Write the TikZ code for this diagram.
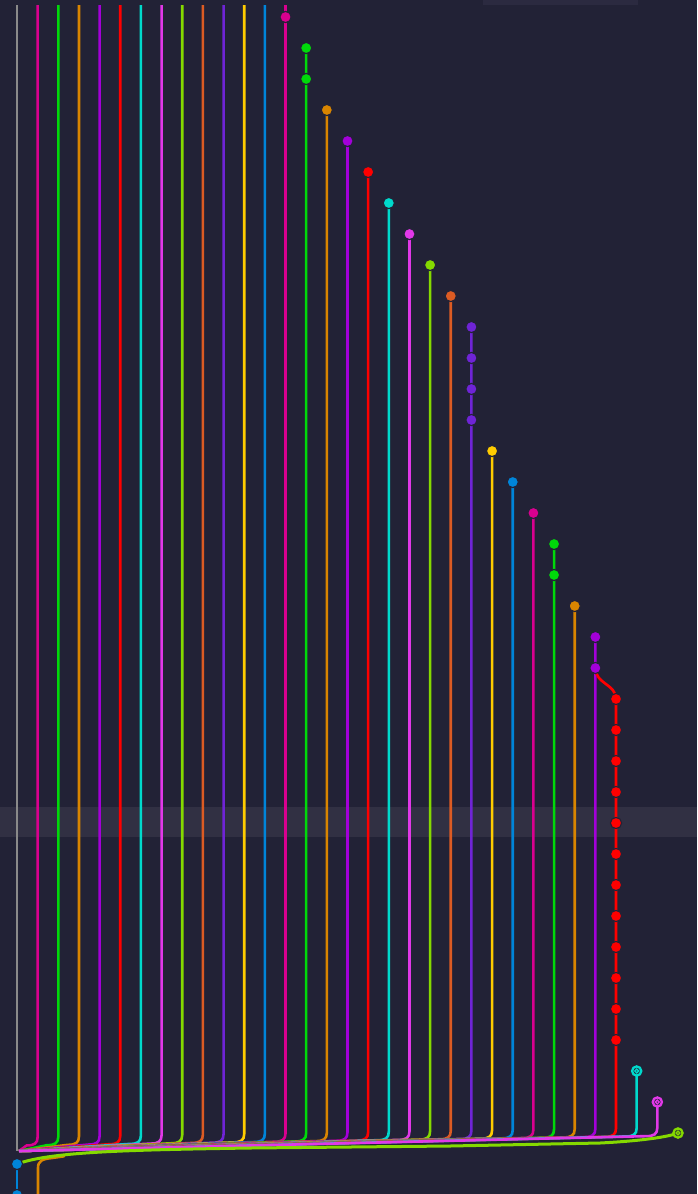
\documentclass[tikz,border=0pt]{standalone}
\usetikzlibrary{calc}
\definecolor{bg}{HTML}{222236}
\definecolor{band}{HTML}{313043}
\definecolor{topbar}{HTML}{2B2A40}
\definecolor{cgray}{HTML}{8A8A8A}
\definecolor{p0}{HTML}{0085D9}
\definecolor{p1}{HTML}{D9008F}
\definecolor{p2}{HTML}{00D90A}
\definecolor{p3}{HTML}{D98500}
\definecolor{p4}{HTML}{A300D9}
\definecolor{p5}{HTML}{FF0000}
\definecolor{p6}{HTML}{00D9CC}
\definecolor{p7}{HTML}{E138E8}
\definecolor{p8}{HTML}{85D900}
\definecolor{p9}{HTML}{DC5B23}
\definecolor{p10}{HTML}{6F24D6}
\definecolor{p11}{HTML}{FFCC00}
\pgfdeclarelayer{back}
\pgfdeclarelayer{lines}
\pgfsetlayers{back,lines,main}
\tikzset{
  commit/.style={circle, minimum size=11.2pt, inner sep=0pt, draw=bg, line width=1.1pt},
  stash/.style={circle, minimum size=9.2pt, inner sep=0pt, fill=bg, line width=2.3pt},
  edge/.style={line width=2.6pt, line cap=round}
}
\begin{document}
\begin{tikzpicture}[x=1pt,y=-1pt]
\begin{pgfonlayer}{back}
\fill[bg] (0,0) rectangle (697,1194);
\fill[band] (0,807) rectangle (697,837);
\fill[topbar] (483,0) rectangle (638,5);
\end{pgfonlayer}
\useasboundingbox (0,0) rectangle (697,1194);

% commits
\foreach \r/\k in {0/13,1/14,2/14,3/15,4/16,5/17,6/18,7/19,8/20,9/21,10/22,11/22,12/22,13/22,14/23,15/24,16/25,17/26,18/26,19/27,20/28,21/28,22/29,23/29,24/29,25/29,26/29,27/29,28/29,29/29,30/29,31/29,32/29,33/29,37/0,38/0}{
  \pgfmathsetmacro\xk{17+20.656*\k}
  \pgfmathsetmacro\yr{17+31*\r}
  \pgfmathtruncatemacro\ci{mod(\k,12)}
  \node[commit, fill=p\ci] (n\r) at (\xk,\yr) {};
}
% stashes
\foreach \r/\k in {34/30,35/31,36/32}{
  \pgfmathsetmacro\xk{17+20.656*\k}
  \pgfmathsetmacro\yr{17+31*\r}
  \pgfmathtruncatemacro\ci{mod(\k,12)}
  \node[stash, draw=p\ci] (n\r) at (\xk,\yr) {};
  \draw[p\ci, line width=1.4pt] (n\r.center) circle[radius=1.9pt];
}

\coordinate (merge) at (19,1151);
\begin{pgfonlayer}{lines}
% gray head line
\coordinate (g0) at (17,5);
\draw[edge, cgray, line cap=butt] (g0) -- (17,1151);
% branch lines into the bundle
\foreach \k/\ys in {1/5,2/5,3/5,4/5,5/5,6/5,7/5,8/5,9/5,10/5,11/5,12/5,13/5,14/48,15/110,16/141,17/172,18/203,19/234,20/265,21/296,22/327,23/451,24/482,25/513,26/544,27/606,28/637,29/699,30/1071,31/1102}{
  \pgfmathsetmacro\xk{17+20.656*\k}
  \pgfmathtruncatemacro\ci{mod(\k,12)}
  \pgfmathsetmacro\yv{1137.5-0.015*\xk}
  \pgfmathsetmacro\yh{\yv+8.5}
  \coordinate (s\k) at (\xk,\ys);
  \draw[edge, p\ci, line cap=butt] (s\k) -- (\xk,\yv) .. controls (\xk,\yv+6.5) and (\xk-3.5,\yh) .. (\xk-11,\yh) -- (merge);
}
% purple to red
\draw[edge, p5] (n21.center) .. controls ($(n21.center)+(0,16)$) and ($(n22.center)+(0,-15)$) .. (n22.center);
% orange from below
\coordinate (o0) at (38,1196);
\draw[edge, p3] (o0) -- (38,1168) .. controls (38,1161) and (42,1159) .. (52,1158) -- (64,1156.3);
% yellow-green stash line
\draw[line width=3pt, p8, line cap=round] (n36.center) .. controls (668,1137) and (640,1141) .. (600,1143) -- (450,1146) -- (250,1148) .. controls (120,1150) and (50,1152) .. (n37.center);
% blue
\draw[edge, p0] (n37) -- (n38);
\end{pgfonlayer}
\end{tikzpicture}
\end{document}
